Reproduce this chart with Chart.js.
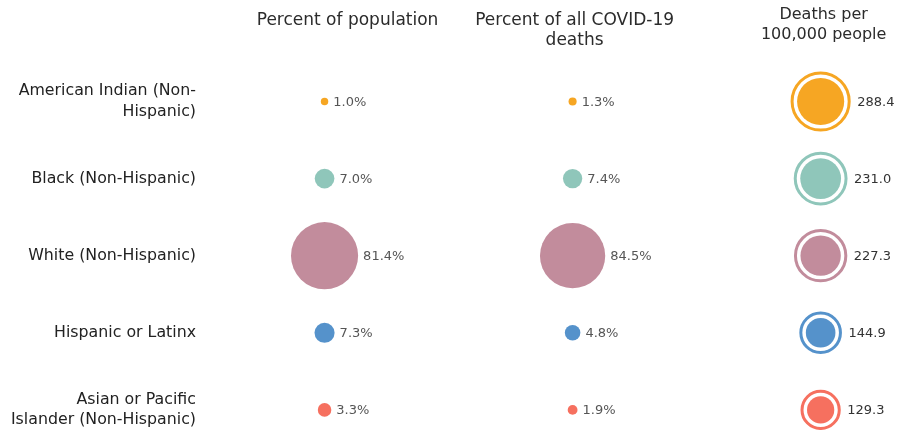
<!DOCTYPE html>
<html>
<head>
<meta charset="utf-8">
<script src="https://cdn.jsdelivr.net/npm/chart.js@4.4.1/dist/chart.umd.min.js"></script>
<style>
    html, body { margin: 0; padding: 0; background: #fff; }
    #wrap { width: 902px; height: 430px; }
</style>
</head>
<body>
<div id="wrap"><canvas id="chart"></canvas></div>
<script>
const groups = [
    ['American Indian (Non-', 'Hispanic)'],
    'Black (Non-Hispanic)',
    'White (Non-Hispanic)',
    'Hispanic or Latinx',
    ['Asian or Pacific', 'Islander (Non-Hispanic)']
];
const columnTitles = [
    ['Percent of population'],
    ['Percent of all COVID-19', 'deaths'],
    ['Deaths per', '100,000 people']
];
const populationPct = [1.0, 7.0, 81.4, 7.3, 3.3];
const deathsPct = [1.3, 7.4, 84.5, 4.8, 1.9];
const deathRate = [288.4, 231.0, 227.3, 144.9, 129.3];
const groupColors = ['#f6a623', '#8fc6ba', '#c28c9c', '#5592cb', '#f6705f'];

// bubble area follows the value
const pctRadius = v => 3.72 * Math.sqrt(v);
const rateRadius = v => 1.77 * Math.sqrt(v);

const toPoints = (values, col, radiusFn, fmt) =>
    values.map((v, i) => ({ x: col, y: i, r: radiusFn(v), text: fmt(v) }));

const pct = v => v.toFixed(1) + '%';

// Column titles + the value text beside each bubble
const annotate = {
    id: 'annotate',
    afterDatasetsDraw(chart) {
        const { ctx, scales: { x } } = chart;
        ctx.save();

        chart.data.datasets.forEach((ds, di) => {
            if (!ds.labelStyle) return;
            const meta = chart.getDatasetMeta(di);
            ctx.font = ds.labelStyle.font;
            ctx.fillStyle = ds.labelStyle.color;
            ctx.textAlign = 'left';
            ctx.textBaseline = 'middle';
            meta.data.forEach((el, i) => {
                const p = ds.data[i];
                ctx.fillText(p.text, el.x + p.r + ds.labelStyle.gap, el.y + 1);
            });
        });

        ctx.fillStyle = '#2b2b2b';
        ctx.textAlign = 'center';
        ctx.textBaseline = 'middle';
        const size = [17, 17, 16];
        const shift = [23, 2, 3];
        const top = [21, 21, 15];
        columnTitles.forEach((lines, c) => {
            ctx.font = size[c] + 'px "DejaVu Sans"';
            lines.forEach((line, j) => {
                ctx.fillText(line, x.getPixelForValue(c) + shift[c], top[c] + j * 19.5);
            });
        });
        ctx.restore();
    }
};

new Chart(document.getElementById('chart'), {
    type: 'bubble',
    data: {
        datasets: [
            {
                label: 'Percent of population',
                data: toPoints(populationPct, 0, pctRadius, pct),
                backgroundColor: groupColors,
                borderWidth: 0,
                labelStyle: { font: '13px "DejaVu Sans"', color: '#555', gap: 5 }
            },
            {
                label: 'Percent of all COVID-19 deaths',
                data: toPoints(deathsPct, 1, v => 3.55 * Math.sqrt(v), pct),
                backgroundColor: groupColors,
                borderWidth: 0,
                labelStyle: { font: '13px "DejaVu Sans"', color: '#555', gap: 5 }
            },
            {
                label: 'Deaths per 100,000 (ring)',
                data: toPoints(deathRate, 2, v => rateRadius(v) - 1.5, v => v.toFixed(1)),
                backgroundColor: 'rgba(0,0,0,0)',
                borderColor: groupColors,
                borderWidth: 3,
                labelStyle: { font: '13px "DejaVu Sans"', color: '#333', gap: 8 }
            },
            {
                label: 'Deaths per 100,000',
                data: toPoints(deathRate, 2, v => rateRadius(v) - 6.5, v => v.toFixed(1)),
                backgroundColor: groupColors,
                borderWidth: 0
            }
        ]
    },
    options: {
        responsive: true,
        maintainAspectRatio: false,
        animation: false,
        layout: { padding: 0, autoPadding: false },
        clip: false,
        plugins: {
            legend: { display: false },
            tooltip: { enabled: false }
        },
        scales: {
            x: {
                type: 'linear',
                display: false,
                min: -0.482,
                max: 2.328
            },
            y: {
                type: 'linear',
                reverse: true,
                min: -1.3165,
                max: 4.261,
                afterFit: axis => {
                    axis.width = 205;
                    axis.paddingTop = 0;
                    axis.paddingBottom = 0;
                },
                afterBuildTicks: axis => { axis.ticks = groups.map((g, i) => ({ value: i })); },
                grid: { display: false, drawTicks: false },
                border: { display: false },
                ticks: {
                    padding: 9,
                    color: '#222',
                    font: { family: 'DejaVu Sans', size: 15.8, lineHeight: 1.3 },
                    callback: v => groups[v]
                }
            }
        }
    },
    plugins: [annotate]
});
</script>
</body>
</html>
